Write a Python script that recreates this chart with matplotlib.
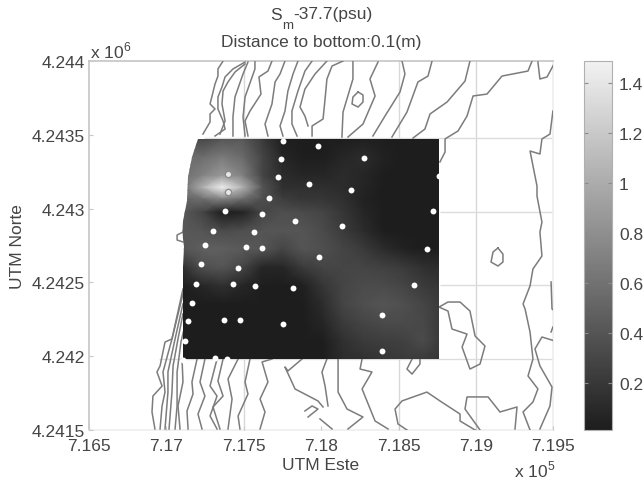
"""Bottom salinity anomaly over a bathymetric map, matlab style figure"""

import matplotlib

matplotlib.use("Agg")
import matplotlib.pyplot as plt
from matplotlib.colors import LinearSegmentedColormap
from matplotlib.patches import Polygon

# heat map grid, UTM metres
grid_east = [717107, 717230, 717360, 717490, 717620, 717750, 717880, 718010, 718140, 718270, 718400, 718530, 718660, 718761]
grid_north = [4243472, 4243348, 4243223, 4243144, 4243065, 4242975, 4242850, 4242726, 4242602, 4242478, 4242354, 4242230, 4242105, 4241981]
salinity = [
    [.40, .30, .40, .43, .22, .02, .01, .01, .02, .03, .02, .01, .01, .01],
    [.57, .57, .66, .55, .29, .08, .02, .02, .08, .12, .05, .01, .01, .01],
    [.57, .71, .88, .71, .29, .12, .08, .08, .12, .08, .02, .01, .01, .01],
    [.57, 1.02, 1.48, 1.05, .40, .15, .14, .14, .12, .07, .01, .01, .01, .01],
    [.50, .57, .72, .57, .36, .24, .19, .19, .15, .05, .01, .01, .01, .01],
    [.43, .29, .02, .05, .29, .36, .33, .29, .19, .08, .01, .01, .01, .01],
    [.43, .40, .33, .36, .40, .40, .40, .33, .22, .12, .02, .01, .01, .01],
    [.40, .47, .47, .43, .40, .29, .40, .36, .29, .22, .12, .05, .01, .01],
    [.15, .36, .40, .29, .08, .08, .22, .29, .29, .29, .26, .22, .15, .12],
    [.02, .08, .15, .08, .02, .01, .03, .19, .29, .33, .33, .29, .22, .19],
    [.01, .01, .01, .01, .01, .01, .01, .12, .29, .36, .40, .36, .29, .22],
    [.01, .01, .01, .01, .01, .01, .01, .08, .22, .29, .33, .33, .31, .22],
    [.01, .01, .01, .01, .01, .01, .01, .02, .15, .22, .24, .26, .33, .22],
    [.01, .01, .01, .01, .01, .01, .01, .01, .12, .15, .19, .22, .22, .19],
]

# shoreline side of the heat map
coast_edge = [
    (717204, 4243472), (717165, 4243350), (717140, 4243214), (717133, 4243051), (717107, 4242916),
    (717101, 4242848), (717114, 4242740), (717107, 4242604), (717107, 4241981),
    (718761, 4241981), (718761, 4243472),
]

# stations
station_east = [
    717755, 717977, 718274, 717740, 718761, 717719, 717919, 718192, 717663, 717379, 717620, 718722, 717831, 718132,
    717301, 717566, 717252, 717516, 717618, 718681, 717988, 717224, 717463, 717191, 717432, 717570, 717820, 718597,
    717165, 718395, 717142, 717372, 717478, 717755, 717122, 718391, 717314, 717392, 717107,
]
station_north = [
    4243460, 4243426, 4243340, 4243336, 4243223, 4243211, 4243164, 4243128, 4243074, 4242986, 4242965, 4242981, 4242916, 4242882,
    4242846, 4242839, 4242751, 4242742, 4242735, 4242728, 4242672, 4242622, 4242595, 4242487, 4242489, 4242478, 4242460, 4242480,
    4242358, 4242277, 4242238, 4242245, 4242247, 4242216, 4242105, 4242037, 4241988, 4241981, 4241974,
]
ringed_east = [717400, 717396]
ringed_north = [4243234, 4243110]

# isobaths of the base map
isobaths = [
    [(717366, 4244000), (717333, 4243946), (717333, 4243898), (717314, 4243844), (717295, 4243763), (717282, 4243709), (717314, 4243675), (717282, 4243641), (717282, 4243587), (717236, 4243505)],
    [(717508, 4243993), (717430, 4243946), (717379, 4243892), (717359, 4243824), (717333, 4243756), (717333, 4243675), (717366, 4243594), (717379, 4243539), (717314, 4243492)],
    [(717508, 4243980), (717443, 4243925), (717398, 4243858), (717366, 4243797), (717359, 4243709), (717379, 4243594), (717346, 4243505)],
    [(717527, 4243993), (717495, 4243912), (717443, 4243756), (717430, 4243621), (717430, 4243492)],
    [(717572, 4244000), (717572, 4243946), (717508, 4243756), (717495, 4243621), (717508, 4243492)],
    [(717682, 4244000), (717656, 4243932), (717598, 4243892), (717611, 4243776), (717540, 4243661), (717508, 4243594), (717527, 4243492)],
    [(717766, 4244000), (717734, 4243912), (717702, 4243858), (717682, 4243709), (717637, 4243573), (717656, 4243492)],
    [(717850, 4244000), (717818, 4243912), (717785, 4243797), (717766, 4243661), (717734, 4243560), (717753, 4243492)],
    [(717941, 4244000), (717895, 4243932), (717850, 4243797), (717811, 4243661), (717811, 4243573), (717844, 4243492)],
    [(718037, 4244000), (717960, 4243912), (717895, 4243810), (717863, 4243688), (717895, 4243627), (717915, 4243560)],
    [(718141, 4244000), (718070, 4243966), (718037, 4243878), (718025, 4243743), (718012, 4243607), (717941, 4243560), (717941, 4243492)],
    [(718205, 4244000), (718205, 4243878), (718141, 4243654), (718134, 4243485)],
    [(718367, 4243993), (718315, 4243878), (718348, 4243763), (718270, 4243573), (718173, 4243485)],
    [(718522, 4244000), (718541, 4243912), (718509, 4243790), (718412, 4243627), (718334, 4243492)],
    [(718716, 4244000), (718690, 4243898), (718625, 4243858), (718554, 4243654), (718457, 4243485)],
    [(718961, 4244000), (718929, 4243864), (718813, 4243722), (718703, 4243641), (718670, 4243539), (718593, 4243478)],
    [(719362, 4244000), (719336, 4243932), (719168, 4243898), (719071, 4243776), (718981, 4243763), (718942, 4243627), (718884, 4243526), (718800, 4243472), (718800, 4243383), (718767, 4243316)],
    [(719400, 4243993), (719413, 4243878), (719459, 4243892), (719504, 4243980)],
    [(719497, 4243661), (719478, 4243505), (719426, 4243472), (719413, 4243370), (719349, 4243390), (719394, 4243153), (719394, 4243085), (719426, 4242909), (719413, 4242841), (719426, 4242679), (719368, 4242591), (719349, 4242476), (719304, 4242354), (719317, 4242320), (719349, 4242164), (719368, 4241981), (719336, 4241866), (719400, 4241778), (719368, 4241690), (719304, 4241622), (719349, 4241500)],
    [(719485, 4242503), (719491, 4242320), (719510, 4242306)],
    [(719510, 4242103), (719426, 4242130), (719381, 4242049), (719413, 4241934), (719491, 4241791), (719478, 4241663), (719413, 4241507)],
    [(719497, 4242198), (719485, 4242164)],
    [(719142, 4242733), (719110, 4242706), (719097, 4242638), (719142, 4242611), (719174, 4242638), (719174, 4242692), (719142, 4242733)],
    [(718238, 4243790), (718205, 4243756), (718199, 4243709), (718238, 4243688), (718270, 4243722), (718270, 4243770), (718238, 4243790)],
    [(717107, 4242841), (717069, 4242821), (717069, 4242787), (717107, 4242774)],
    [(718761, 4242333), (718819, 4242367), (718897, 4242367), (718961, 4242306), (718994, 4242137), (719058, 4242069), (719026, 4241947), (718961, 4241913), (718910, 4242062), (718942, 4242150), (718845, 4242184), (718819, 4242306), (718761, 4242333)],
    [(718587, 4241981), (718554, 4241913), (718587, 4241879), (718638, 4241947), (718638, 4241981)],
    [(718554, 4241500), (718496, 4241541), (718477, 4241642), (718522, 4241697), (718683, 4241757), (718767, 4241697), (718897, 4241608), (718897, 4241561), (718994, 4241500)],
    [(719026, 4241500), (718929, 4241642), (718942, 4241724), (719078, 4241724), (719155, 4241622), (719265, 4241656), (719252, 4241507)],
    [(718264, 4241981), (718251, 4241913), (718328, 4241893), (718264, 4241778), (718348, 4241561), (718432, 4241507)],
    [(718109, 4241981), (718109, 4241757), (718167, 4241642), (718270, 4241588), (718173, 4241507)],
    [(718037, 4241981), (718005, 4241893), (718025, 4241798), (718044, 4241663)],
    [(717992, 4241575), (718070, 4241507)],
    [(717876, 4241981), (717785, 4241900), (717766, 4241927), (717831, 4241778), (717979, 4241697), (718012, 4241656)],
    [(717895, 4241629), (717941, 4241663), (717979, 4241642), (717915, 4241588)],
    [(717107, 4242455), (717036, 4242117), (716991, 4242096), (716959, 4241934), (716939, 4241893), (716972, 4241798), (716913, 4241730), (716907, 4241622), (716926, 4241507)],
    [(717107, 4242421), (717036, 4242117), (716978, 4241893), (716991, 4241757), (716972, 4241663), (716959, 4241507)],
    [(717107, 4242354), (717056, 4242117), (717010, 4241893), (717010, 4241757), (716991, 4241507)],
    [(717107, 4242286), (717075, 4242117), (717043, 4241934), (717036, 4241757), (717017, 4241507)],
    [(717114, 4242184), (717094, 4242096), (717069, 4241893), (717069, 4241663), (717056, 4241507)],
    [(717101, 4241981), (717107, 4241825), (717075, 4241663), (717088, 4241507)],
    [(717198, 4241981), (717165, 4241825), (717172, 4241744), (717133, 4241629), (717140, 4241507)],
    [(717249, 4241981), (717217, 4241825), (717249, 4241730), (717204, 4241608), (717230, 4241507)],
    [(717327, 4241981), (717282, 4241798), (717327, 4241730), (717282, 4241595), (717327, 4241507)],
    [(717366, 4241981), (717333, 4241832), (717366, 4241730), (717301, 4241656), (717346, 4241507)],
    [(717463, 4241981), (717398, 4241846), (717424, 4241710), (717398, 4241507)],
    [(717540, 4241981), (717508, 4241825), (717527, 4241744), (717463, 4241595), (717475, 4241507)],
    [(717682, 4241981), (717618, 4241961), (717656, 4241825), (717605, 4241710), (717637, 4241622), (717605, 4241507)],
]

# faint UTM grid printed on the base map
map_grid_east = [717500, 718500, 719000]
map_grid_north = [4243480, 4242980, 4242480, 4241981]
map_grid_north_from = [717240, 718767, 718767, 716950]

x_ticks = [716500, 717000, 717500, 718000, 718500, 719000, 719500]
x_tick_labels = ["7.165", "7.17", "7.175", "7.18", "7.185", "7.19", "7.195"]
y_ticks = [4241500, 4242000, 4242500, 4243000, 4243500, 4244000]
y_tick_labels = ["4.2415", "4.242", "4.2425", "4.243", "4.2435", "4.244"]
cbar_ticks = [0.2, 0.4, 0.6, 0.8, 1, 1.2, 1.4]
cbar_tick_labels = ["0.2", "0.4", "0.6", "0.8", "1", "1.2", "1.4"]

TEXT = "#454545"
LINE = "#7c7c7c"
W, H = 643, 481

plt.rcParams["font.family"] = ["Liberation Sans", "DejaVu Sans"]
plt.rcParams["font.size"] = 12.5
plt.rcParams["mathtext.fontset"] = "custom"
plt.rcParams["mathtext.rm"] = "Liberation Sans"
plt.rcParams["text.color"] = TEXT

fig = plt.figure(figsize=(W / 100, H / 100), dpi=100)
ax = fig.add_axes([89 / W, 1 - 431 / H, 464.4 / W, 369 / H])

for east in map_grid_east:
    ax.axvline(east, color="#d8d8d8", lw=1.0, zorder=1)
for north, start in zip(map_grid_north, map_grid_north_from):
    ax.hlines(north, start, 719500, color="#dcdcdc", lw=1.0, zorder=1)

for line in isobaths:
    ax.plot([p[0] for p in line], [p[1] for p in line], color=LINE, lw=1.1, zorder=2, solid_joinstyle="round")

cmap = LinearSegmentedColormap.from_list("film_gray", ["#1d1d1d", "#f2f2f2"])
mesh = ax.pcolormesh(grid_east, grid_north, salinity, shading="gouraud", cmap=cmap, vmin=0.012, vmax=1.488, zorder=3)
clip = Polygon(coast_edge, transform=ax.transData, fc="none", ec="none")
ax.add_patch(clip)
mesh.set_clip_path(clip)

ax.scatter(station_east, station_north, s=18, color="white", lw=0, zorder=4, clip_on=False)
ax.scatter(ringed_east, ringed_north, s=20, facecolor="#e8e8e8", edgecolor="#8a8a8a", lw=0.9, zorder=4)

ax.set_xlim(716500, 719500)
ax.set_ylim(4241500, 4244000)
ax.set_xticks(x_ticks, x_tick_labels)
ax.set_yticks(y_ticks, y_tick_labels)
ax.tick_params(direction="in", length=3, color="#c8c8c8", labelcolor=TEXT, labelsize=12.5, pad=3)
ax.tick_params(axis="x", pad=6)
for name, spine in ax.spines.items():
    spine.set_color("#c0c0c0" if name in ("left", "top") else "#ececec")
    spine.set_linewidth(1.1)
    spine.set_zorder(1)

cax = fig.add_axes([584 / W, 1 - 431 / H, 28 / W, 369 / H])
cbar = fig.colorbar(mesh, cax=cax)
cbar.set_ticks(cbar_ticks, labels=cbar_tick_labels)
cbar.ax.tick_params(direction="in", length=3, color="#8a8a8a", labelcolor=TEXT, labelsize=12.5, pad=5, left=True)
cbar.outline.set_edgecolor("#b0b0b0")

# title pieces placed apart, the subscript sits low in the original
fig.text(270 / W, 1 - 15 / H, "S", ha="left", va="center")
fig.text(282 / W, 1 - 26 / H, "m", ha="left", va="center", fontsize=9.5)
fig.text(293 / W, 1 - 15 / H, "-37.7(psu)", ha="left", va="center")
fig.text(321 / W, 1 - 43 / H, "Distance to bottom:0.1(m)", ha="center", va="center")
fig.text(90 / W, 1 - 51 / H, "x 10$^{6}$", ha="left", va="center")
fig.text(514 / W, 1 - 470 / H, "x 10$^{5}$", ha="left", va="center")
fig.text(321 / W, 1 - 466 / H, "UTM Este", ha="center", va="center")
fig.text(18 / W, 1 - 247 / H, "UTM Norte", ha="center", va="center", rotation=90)

fig.savefig("out.png", dpi=100)
